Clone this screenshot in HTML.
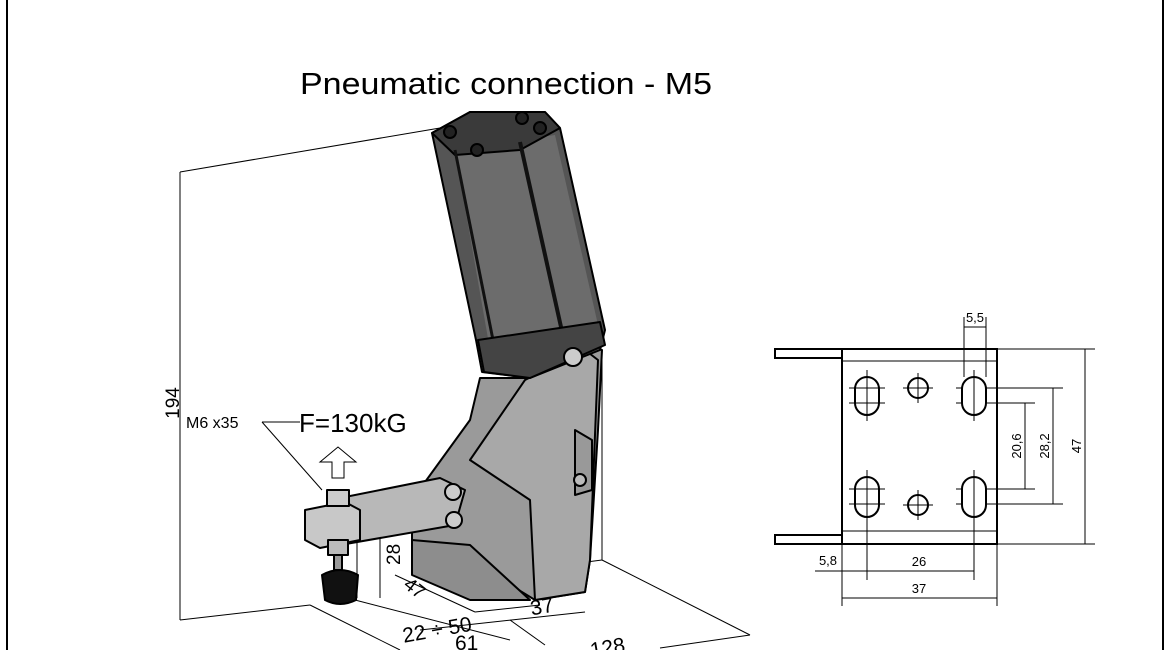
<!DOCTYPE html>
<html><head><meta charset="utf-8"><style>
html,body{margin:0;padding:0;background:#fff;}
svg{display:block;font-family:"Liberation Sans","DejaVu Sans",sans-serif;}
</style></head><body>
<svg width="1170" height="650" viewBox="0 0 1170 650" xmlns="http://www.w3.org/2000/svg">
<rect width="1170" height="650" fill="#fff"/>
<line x1="7" y1="0" x2="7" y2="650" stroke="#000" stroke-width="2"/>
<line x1="1163" y1="0" x2="1163" y2="650" stroke="#000" stroke-width="2"/>
<text x="300" y="94" font-size="31" textLength="412" lengthAdjust="spacingAndGlyphs">Pneumatic connection - M5</text>

<g stroke="#000" stroke-width="1" fill="none">
<line x1="180" y1="172" x2="180" y2="620"/>
<line x1="180" y1="172" x2="440" y2="128"/>
<line x1="602" y1="350" x2="602" y2="560"/>
<line x1="180" y1="620" x2="310" y2="605"/>
<line x1="602" y1="560" x2="750" y2="635"/>
<line x1="540" y1="568" x2="602" y2="560"/>
<line x1="310" y1="605" x2="400" y2="650"/>
<line x1="355" y1="600" x2="510" y2="640"/>
<line x1="395" y1="575" x2="475" y2="612"/>
<line x1="475" y1="612" x2="540" y2="605"/>
<line x1="420" y1="630" x2="585" y2="612"/>
<line x1="510" y1="620" x2="545" y2="645"/>
<line x1="660" y1="648" x2="750" y2="635"/>
<line x1="357" y1="540" x2="357" y2="598"/>
<line x1="380" y1="538" x2="380" y2="598"/>
<line x1="300" y1="422" x2="262" y2="422"/>
<line x1="262" y1="422" x2="322" y2="490"/>
</g>
<text x="179" y="403" font-size="19" transform="rotate(-90 179 403)" text-anchor="middle">194</text>
<text x="186" y="428" font-size="16">M6 x35</text>
<text x="299" y="432" font-size="26">F=130kG</text>
<text x="375" y="590" font-size="19" transform="rotate(-90 375 565)">28</text>
<text x="402" y="592" font-size="19" transform="rotate(38 410 590)">47</text>
<text x="402" y="638" font-size="21" transform="rotate(-10 430 630)">22 ÷ 50</text>
<text x="530" y="613" font-size="21" transform="rotate(-10 545 605)">37</text>
<text x="455" y="650" font-size="21">61</text>
<text x="590" y="655" font-size="21" transform="rotate(-10 605 648)">128</text>
<path d="M332 478 L332 462 L320 462 L338 447 L356 462 L344 462 L344 478 Z" fill="#fff" stroke="#000"/>

<g stroke="#000" stroke-width="2" stroke-linejoin="round">
<path d="M480 378 L530 378 L585 345 L602 350 L598 430 L590 560 L585 592 L535 600 L470 560 L412 556 L412 500 L470 420 Z" fill="#9a9a9a"/>
<path d="M525 380 L585 350 L598 360 L590 560 L585 592 L535 600 L530 500 L470 460 Z" fill="#a8a8a8"/>
<path d="M412 540 L470 545 L530 600 L470 600 L412 575 Z" fill="#8d8d8d"/>
<path d="M575 430 L592 440 L592 490 L575 495 Z" fill="#999"/>
<circle cx="580" cy="480" r="6" fill="#bbb"/>
<path d="M432 133 L470 112 L545 112 L560 128 L605 330 L600 350 L530 378 L482 372 L476 340 Z" fill="#555"/>
<path d="M455 150 L555 135 L598 325 L490 350 Z" fill="#6c6c6c" stroke="none"/>
<path d="M432 133 L470 112 L545 112 L560 128 L520 150 L455 155 Z" fill="#3a3a3a"/>
<line x1="455" y1="150" x2="495" y2="350" stroke="#111" stroke-width="3"/>
<line x1="520" y1="142" x2="565" y2="345" stroke="#111" stroke-width="4"/>
<path d="M478 340 L600 322 L605 345 L530 378 L484 372 Z" fill="#444"/>
<circle cx="573" cy="357" r="9" fill="#ccc"/>
<circle cx="450" cy="132" r="6" fill="#222"/>
<circle cx="522" cy="118" r="6" fill="#222"/>
<circle cx="540" cy="128" r="6" fill="#222"/>
<circle cx="477" cy="150" r="6" fill="#222"/>
<path d="M330 500 L440 478 L465 490 L455 525 L340 545 Z" fill="#b8b8b8"/>
<path d="M305 510 L345 502 L360 510 L360 540 L320 548 L305 540 Z" fill="#c8c8c8"/>
<circle cx="453" cy="492" r="8" fill="#ccc"/>
<circle cx="454" cy="520" r="8" fill="#ccc"/>
<rect x="327" y="490" width="22" height="16" fill="#ccc"/>
<rect x="328" y="540" width="20" height="15" fill="#bbb"/>
<rect x="334" y="555" width="8" height="15" fill="#999"/>
<path d="M322 575 Q340 565 358 575 L356 600 Q340 608 325 600 Z" fill="#111"/>
</g>

<g stroke="#000" fill="none" stroke-width="2">
<rect x="842" y="349" width="155" height="195"/>
<path d="M842 349 L775 349 L775 358 L842 358"/>
<path d="M842 535 L775 535 L775 544 L842 544"/>
<rect x="855" y="377" width="24" height="38" rx="12"/>
<rect x="962" y="377" width="24" height="38" rx="12"/>
<rect x="855" y="477" width="24" height="40" rx="12"/>
<rect x="962" y="477" width="24" height="40" rx="12"/>
<circle cx="918" cy="388" r="10"/>
<circle cx="918" cy="505" r="10"/>
</g>
<g stroke="#000" fill="none" stroke-width="1">
<line x1="842" y1="361" x2="997" y2="361"/>
<line x1="842" y1="531" x2="997" y2="531"/>
<line x1="997" y1="349" x2="1095" y2="349"/>
<line x1="997" y1="544" x2="1095" y2="544"/>
<line x1="986" y1="388" x2="1063" y2="388"/>
<line x1="986" y1="504" x2="1063" y2="504"/>
<line x1="986" y1="403" x2="1035" y2="403"/>
<line x1="986" y1="489" x2="1035" y2="489"/>
<line x1="1085" y1="349" x2="1085" y2="544"/>
<line x1="1053" y1="388" x2="1053" y2="504"/>
<line x1="1025" y1="403" x2="1025" y2="489"/>
<line x1="849" y1="388" x2="885" y2="388"/><line x1="849" y1="403" x2="885" y2="403"/>
<line x1="849" y1="489" x2="885" y2="489"/><line x1="849" y1="504" x2="885" y2="504"/>
<line x1="956" y1="388" x2="962" y2="388"/><line x1="956" y1="403" x2="962" y2="403"/>
<line x1="956" y1="489" x2="962" y2="489"/><line x1="956" y1="504" x2="962" y2="504"/>
<line x1="867" y1="370" x2="867" y2="421"/>
<line x1="867" y1="470" x2="867" y2="580"/>
<line x1="974" y1="370" x2="974" y2="421"/>
<line x1="974" y1="470" x2="974" y2="580"/>
<line x1="903" y1="388" x2="933" y2="388"/><line x1="918" y1="373" x2="918" y2="403"/>
<line x1="903" y1="505" x2="933" y2="505"/><line x1="918" y1="490" x2="918" y2="520"/>
<line x1="964" y1="317" x2="964" y2="377"/>
<line x1="986" y1="317" x2="986" y2="377"/>
<line x1="964" y1="327" x2="986" y2="327"/>
<line x1="842" y1="544" x2="842" y2="606"/>
<line x1="997" y1="544" x2="997" y2="606"/>
<line x1="815" y1="571" x2="974" y2="571"/>
<line x1="842" y1="598" x2="997" y2="598"/>
</g>
<g font-size="13" fill="#000">
<text x="975" y="322" text-anchor="middle">5,5</text>
<text x="1081" y="446" transform="rotate(-90 1081 446)" text-anchor="middle">47</text>
<text x="1049" y="446" transform="rotate(-90 1049 446)" text-anchor="middle">28,2</text>
<text x="1021" y="446" transform="rotate(-90 1021 446)" text-anchor="middle">20,6</text>
<text x="828" y="565" text-anchor="middle">5,8</text>
<text x="919" y="566" text-anchor="middle">26</text>
<text x="919" y="593" text-anchor="middle">37</text>
</g>
</svg>
</body></html>
